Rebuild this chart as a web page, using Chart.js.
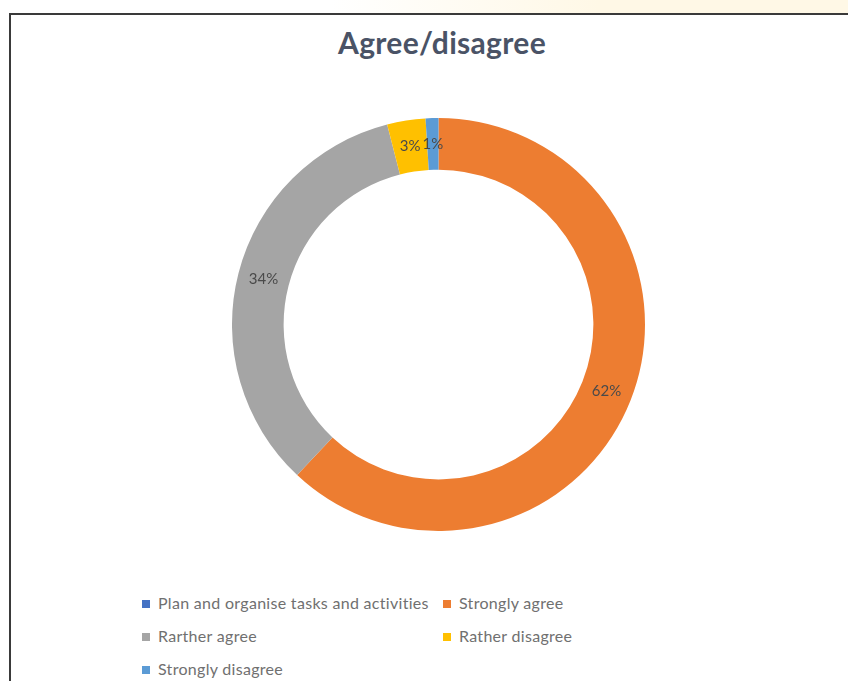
<!DOCTYPE html>
<html>
<head>
<meta charset="utf-8">
<script src="https://cdn.jsdelivr.net/npm/chart.js@4"></script>
<style>
  html, body { margin: 0; padding: 0; background: #fff; }
  body { width: 848px; height: 681px; position: relative; overflow: hidden; font-family: Lato, "Open Sans", sans-serif; }
  #strip { position: absolute; left: 0; top: 0; width: 848px; height: 13px;
           background: linear-gradient(to right, #fff 0px, #fff 330px, #fff8e6 600px, #fff8e6 848px); }
  #frame { position: absolute; left: 9px; top: 13px; width: 839px; height: 680px;
           border-top: 2px solid #3a3a3a; border-left: 2px solid #3a3a3a; box-sizing: border-box; }
  #title { position: absolute; left: 0; width: 884px; top: 24px; text-align: center;
           font-size: 30px; font-weight: bold; color: #4a5366; letter-spacing: 0.3px; }
  #wrap { position: absolute; left: 232px; top: 118px; width: 413px; height: 413px; }
  .leg { position: absolute; font-size: 16px; line-height: 20px; color: #707070; white-space: nowrap; letter-spacing: 0.3px; }
  .leg span { display: inline-block; width: 8px; height: 8px; margin-right: 8px; vertical-align: 1px; }
</style>
</head>
<body>
<div id="strip"></div>
<div id="frame"></div>
<div id="title">Agree/disagree</div>
<div id="wrap"><canvas id="donut"></canvas></div>
<div id="legend"></div>
<script>
// categories and values (percent)
const categories = ["Plan and organise tasks and activities", "Strongly agree", "Rarther agree", "Rather disagree", "Strongly disagree"];
const values = [0, 62, 34, 3, 1];
const colors = ["#4472C4", "#ED7D31", "#A5A5A5", "#FFC000", "#5B9BD5"];

// legend layout: two columns like the original
const legendPos = [[142, 593], [443, 593], [142, 626], [443, 626], [142, 659]];
const legendEl = document.getElementById("legend");
categories.forEach((c, i) => {
  const d = document.createElement("div");
  d.className = "leg";
  d.style.left = legendPos[i][0] + "px";
  d.style.top = legendPos[i][1] + "px";
  d.innerHTML = '<span style="background:' + colors[i] + '"></span>' + c;
  legendEl.appendChild(d);
});

// percent labels in the middle of each ring segment
const pctLabels = {
  id: "pctLabels",
  afterDatasetsDraw(chart) {
    const ctx = chart.ctx;
    const meta = chart.getDatasetMeta(0);
    ctx.save();
    ctx.font = "15px Lato, sans-serif";
    ctx.fillStyle = "#4a4a4a";
    ctx.textAlign = "center";
    ctx.textBaseline = "middle";
    meta.data.forEach((arc, i) => {
      if (!values[i]) return;
      const p = arc.tooltipPosition();
      ctx.fillText(values[i] + "%", p.x, p.y);
    });
    ctx.restore();
  }
};

new Chart(document.getElementById("donut"), {
  type: "doughnut",
  data: {
    labels: categories,
    datasets: [{
      data: values,
      backgroundColor: colors,
      borderWidth: 0
    }]
  },
  options: {
    responsive: true,
    maintainAspectRatio: false,
    animation: false,
    cutout: "75%",
    layout: { padding: 0 },
    plugins: {
      legend: { display: false },
      tooltip: { enabled: false }
    }
  },
  plugins: [pctLabels]
});
</script>
</body>
</html>
